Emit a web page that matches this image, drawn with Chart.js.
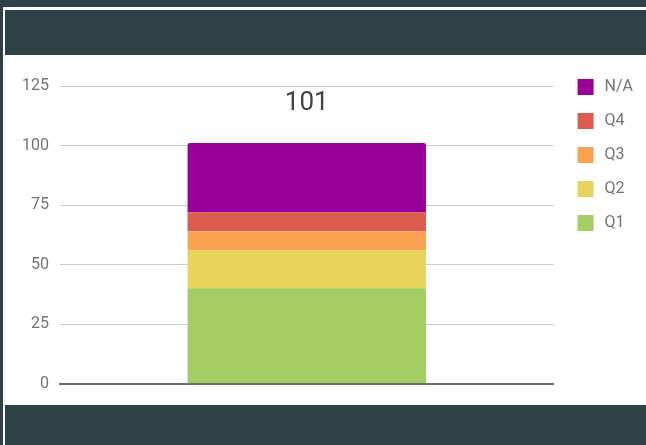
<!DOCTYPE html>
<html>
<head>
<meta charset="utf-8">
<script src="https://cdn.jsdelivr.net/npm/chart.js@4"></script>
<style>
  html, body { margin: 0; padding: 0; }
  body { width: 646px; height: 445px; background: #2e4147; position: relative; overflow: hidden; }
  #frame { position: absolute; left: 3px; top: 7px; right: 0; bottom: 0; background: #fafafa; }
  #header { position: absolute; left: 5px; top: 10px; right: 0; height: 45px; background: #2e4147; }
  #panel { position: absolute; left: 5px; top: 55px; width: 641px; height: 350px; background: #fff; }
  #footer { position: absolute; left: 5px; top: 405px; right: 0; bottom: 0; background: #2e4147; }
</style>
</head>
<body>
<div id="frame"></div>
<div id="header"></div>
<div id="panel"><canvas id="quarterChart" width="641" height="350"></canvas></div>
<div id="footer"></div>
<script>
const categories = [''];
const seriesNames = ['Q1', 'Q2', 'Q3', 'Q4', 'N/A'];
const q1 = [40];
const q2 = [16];
const q3 = [8];
const q4 = [8];
const na = [29];
const totalLabels = ['101'];
const yTicks = [0, 25, 50, 75, 100, 125];

const colors = ['#a4ce63', '#e9d45b', '#fba252', '#dd5c4f', '#990099'];
const seriesValues = [q1, q2, q3, q4, na];

// legend swatch: 16px square with some space around it
function swatch(color) {
  const c = document.createElement('canvas');
  c.width = 25;
  c.height = 16;
  const g = c.getContext('2d');
  g.fillStyle = color;
  g.fillRect(6, 0, 16, 16);
  return c;
}

// draws the total above each stacked column
const totalPlugin = {
  id: 'totals',
  afterDatasetsDraw(chart) {
    const ctx = chart.ctx;
    const x = chart.scales.x;
    const y = chart.scales.y;
    ctx.save();
    ctx.font = '26px Roboto';
    ctx.fillStyle = '#424242';
    ctx.textAlign = 'center';
    ctx.textBaseline = 'alphabetic';
    categories.forEach((c, i) => {
      const sum = seriesValues.reduce((s, arr) => s + arr[i], 0);
      ctx.fillText(totalLabels[i], x.getPixelForValue(i), y.getPixelForValue(sum) - 33);
    });
    ctx.restore();
  }
};

new Chart(document.getElementById('quarterChart'), {
  type: 'bar',
  data: {
    labels: categories,
    datasets: seriesNames.map((name, i) => ({
      label: name,
      data: seriesValues[i],
      backgroundColor: colors[i],
      borderWidth: 0,
      borderRadius: i === 4 ? { topLeft: 2, topRight: 2 } : 0,
      borderSkipped: false,
      categoryPercentage: 1,
      barPercentage: 0.483
    }))
  },
  options: {
    responsive: false,
    animation: false,
    layout: { padding: { top: 6, left: 6, right: 3, bottom: 21.5 } },
    scales: {
      x: {
        stacked: true,
        grid: { display: false, drawTicks: false },
        ticks: { display: false },
        border: { display: true, color: '#6f6f6f', width: 2 }
      },
      y: {
        stacked: true,
        min: 0,
        max: 125,
        afterBuildTicks: axis => { axis.ticks = yTicks.map(v => ({ value: v })); },
        grid: { color: '#cccccc', drawTicks: false },
        border: { display: false },
        ticks: { padding: 11, color: '#757575', font: { family: 'Roboto', size: 16 } }
      }
    },
    plugins: {
      title: { display: true, text: '', font: { size: 10 }, padding: { top: 0, bottom: 13 } },
      legend: {
        position: 'right',
        align: 'start',
        reverse: true,
        labels: {
          usePointStyle: true,
          pointStyleWidth: 25,
          boxHeight: 16,
          padding: 18,
          color: '#757575',
          font: { family: 'Roboto', size: 16 },
          generateLabels: chart => {
            const items = Chart.defaults.plugins.legend.labels.generateLabels(chart);
            items.forEach(it => { it.pointStyle = swatch(colors[it.datasetIndex]); });
            return items;
          }
        }
      },
      tooltip: { enabled: false }
    }
  },
  plugins: [totalPlugin]
});
</script>
</body>
</html>
